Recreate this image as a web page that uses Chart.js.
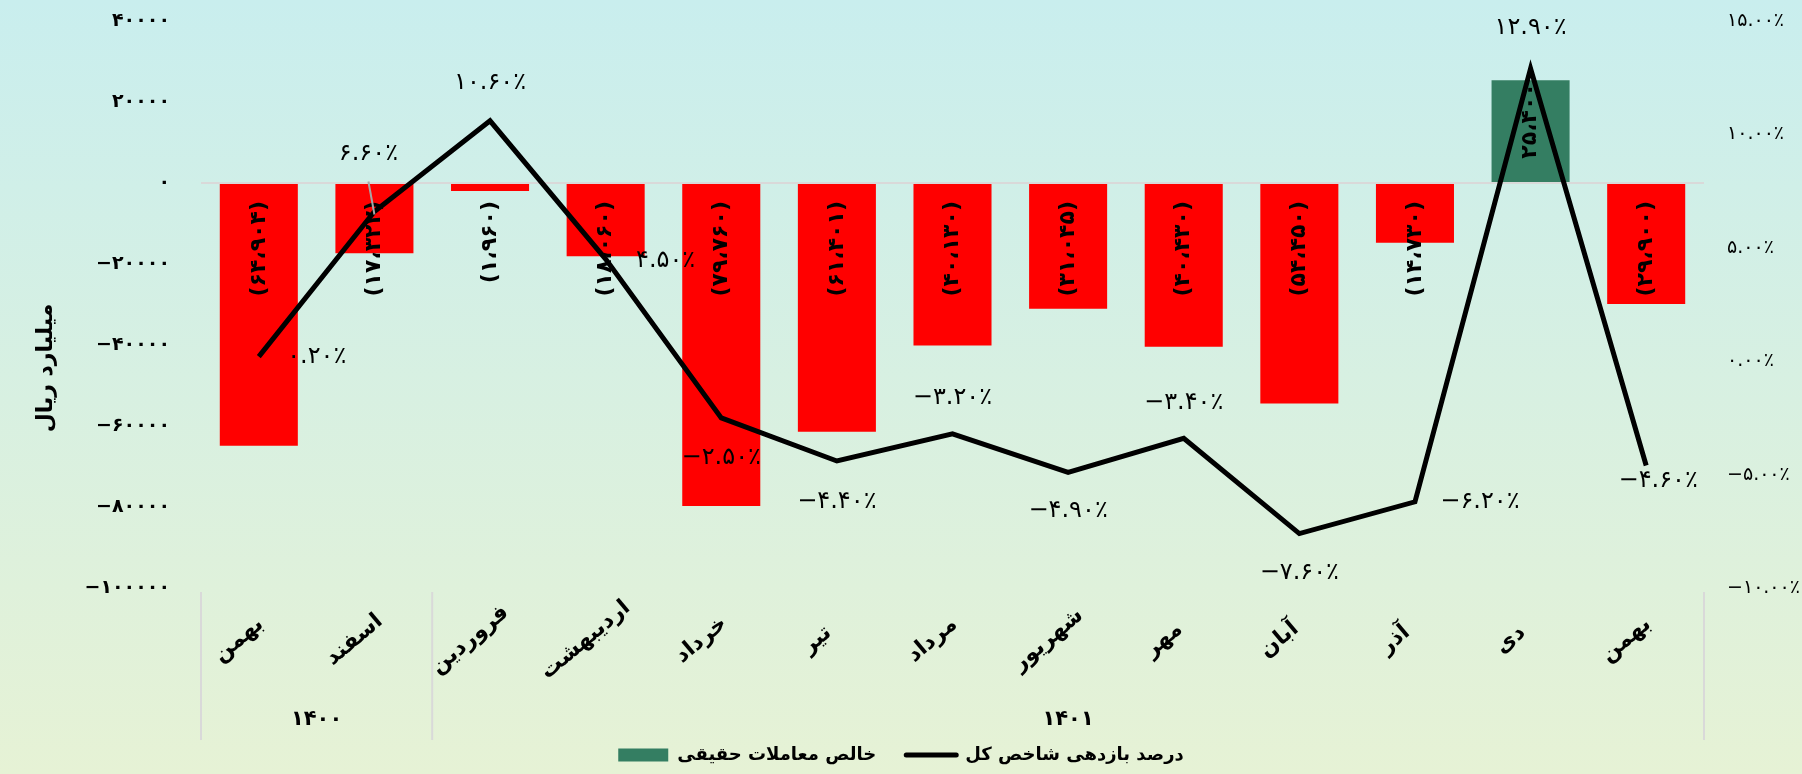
<!DOCTYPE html>
<html>
<head>
<meta charset="utf-8">
<script src="https://cdn.jsdelivr.net/npm/chart.js@4.4.0/dist/chart.umd.min.js"></script>
<style>
html, body { margin: 0; padding: 0; }
#wrap { width: 1802px; height: 774px; }
</style>
</head>
<body>
<div id="wrap"><canvas id="chart"></canvas></div>
<script>
// data
var months = ['بهمن', 'اسفند', 'فروردین', 'اردیبهشت', 'خرداد', 'تیر', 'مرداد', 'شهریور', 'مهر', 'آبان', 'آذر', 'دی', 'بهمن'];
var years = ['۱۴۰۰', '۱۴۰۱'];
var year_spans = [2, 11];
var net_real = [-64904, -17322, -1960, -18060, -79760, -61401, -40130, -31045, -40430, -54450, -14730, 25400, -29900];
var index_return = [0.2, 6.6, 10.6, 4.5, -2.5, -4.4, -3.2, -4.9, -3.4, -7.6, -6.2, 12.9, -4.6];
var left_ticks = [40000, 20000, 0, -20000, -40000, -60000, -80000, -100000];
var right_ticks = [15, 10, 5, 0, -5, -10];

// where each % label sits relative to its point (dx, dy)
var pct_label_offsets = [[58, 0], [-6, -58], [0, -38], [60, 2], [0, 40], [0, 41], [0, -36], [0, 38], [0, -36], [0, 39], [65, 0], [0, -41], [12, 15]];

var GREEN = '#347e62', RED = '#ff0000';
var FONT = "'DejaVu Sans'";

function fa(s){
    return String(s).replace(/[0-9]/g, function(d){ return '۰۱۲۳۴۵۶۷۸۹'[d]; });
}
function fmtMoney(v){
    var s = fa(Math.abs(v).toString().replace(/\B(?=(\d{3})+(?!\d))/g, '،'));
    return v < 0 ? '(' + s + ')' : s;
}
function fmtPct(v){
    return (v < 0 ? '−' : '') + fa(Math.abs(v).toFixed(2)) + '٪';
}
function noVertPad(s){
    s.paddingTop = 0;
    s.paddingBottom = 0;
}

Chart.defaults.font.family = FONT;
Chart.defaults.color = '#000';

var bgPlugin = {
    id: 'bg',
    beforeDraw: function(chart){
        var ctx = chart.ctx;
        var g = ctx.createLinearGradient(0, 0, 0, chart.height);
        g.addColorStop(0, '#c9eeee');
        g.addColorStop(1, '#e6f2d5');
        ctx.save();
        ctx.fillStyle = g;
        ctx.fillRect(0, 0, chart.width, chart.height);
        ctx.restore();
    }
};

var barLabels = {
    id: 'barLabels',
    afterDatasetDraw: function(chart, args){
        if(args.index !== 0) return;
        var ctx = chart.ctx;
        var y0 = chart.scales.y.getPixelForValue(0);
        ctx.save();
        ctx.font = 'bold 22px ' + FONT;
        ctx.fillStyle = '#000';
        ctx.textBaseline = 'middle';
        ctx.textAlign = 'right';
        args.meta.data.forEach(function(bar, i){
            var v = net_real[i];
            var ty = v < 0 ? y0 + 18 : bar.y + 3;
            ctx.save();
            ctx.translate(bar.x, ty);
            ctx.rotate(-Math.PI / 2);
            ctx.fillText(fmtMoney(v), 0, 0);
            ctx.restore();
        });
        ctx.restore();
    }
};

var pctLabels = {
    id: 'pctLabels',
    afterDatasetsDraw: function(chart){
        var ctx = chart.ctx;
        var meta = chart.getDatasetMeta(1);
        ctx.save();
        // leader line for the second label
        var p1 = meta.data[1];
        ctx.strokeStyle = '#a6a6a6';
        ctx.lineWidth = 2;
        ctx.beginPath();
        ctx.moveTo(p1.x - 6, p1.y - 30);
        ctx.lineTo(p1.x, p1.y + 3);
        ctx.stroke();
        ctx.font = '24px ' + FONT;
        ctx.letterSpacing = '2px';
        ctx.fillStyle = '#000';
        ctx.textAlign = 'center';
        ctx.textBaseline = 'middle';
        meta.data.forEach(function(pt, i){
            var o = pct_label_offsets[i];
            ctx.fillText(fmtPct(index_return[i]), pt.x + o[0], pt.y + o[1]);
        });
        ctx.restore();
    }
};

// month names (tilted) + year row + group separators
var catAxis = {
    id: 'catAxis',
    afterDraw: function(chart){
        var ctx = chart.ctx, x = chart.scales.x, area = chart.chartArea;
        var half = (x.getPixelForValue(1) - x.getPixelForValue(0)) / 2;
        ctx.save();
        ctx.fillStyle = '#000';
        ctx.textAlign = 'center';
        ctx.textBaseline = 'middle';
        ctx.font = 'bold 22px ' + FONT;
        months.forEach(function(m, i){
            ctx.save();
            ctx.translate(x.getPixelForValue(i) - 20, area.bottom + 52);
            ctx.rotate(-40 * Math.PI / 180);
            ctx.fillText(m, 0, 0);
            ctx.restore();
        });
        ctx.strokeStyle = '#d9d9d9';
        ctx.lineWidth = 2;
        ctx.font = 'bold 21px ' + FONT;
        var start = 0;
        var edges = [x.getPixelForValue(0) - half];
        for(var i = 0; i < years.length; i++){
            var end = start + year_spans[i] - 1;
            var left = x.getPixelForValue(start) - half;
            var right = x.getPixelForValue(end) + half;
            edges.push(right);
            ctx.fillText(years[i], (left + right) / 2, area.bottom + 132);
            start = end + 1;
        }
        edges.forEach(function(e){
            ctx.beginPath();
            ctx.moveTo(e, area.bottom + 4);
            ctx.lineTo(e, area.bottom + 152);
            ctx.stroke();
        });
        // axis title
        ctx.font = 'bold 22px ' + FONT;
        ctx.translate(46, 368);
        ctx.rotate(-Math.PI / 2);
        ctx.fillText('میلیارد ریال', 0, 0);
        ctx.restore();
    }
};

var chart = new Chart(document.getElementById('chart'), {
    data: {
        labels: months,
        datasets: [
            {
                type: 'bar',
                label: 'خالص معاملات حقیقی',
                data: net_real,
                yAxisID: 'y',
                order: 2,
                backgroundColor: net_real.map(function(v){ return v < 0 ? RED : GREEN; }),
                barPercentage: 0.9,
                categoryPercentage: 0.75
            },
            {
                type: 'line',
                label: 'درصد بازدهی شاخص کل',
                data: index_return,
                yAxisID: 'y1',
                order: 1,
                borderColor: '#000',
                borderWidth: 5,
                pointRadius: 0,
                tension: 0
            }
        ]
    },
    options: {
        responsive: true,
        maintainAspectRatio: false,
        animation: false,
        layout: { padding: { top: 21, left: 0, right: 0, bottom: 0 } },
        plugins: {
            tooltip: { enabled: false },
            legend: {
                position: 'bottom',
                labels: {
                    usePointStyle: true,
                    pointStyleWidth: 50,
                    boxHeight: 13,
                    padding: 30,
                    font: { size: 18, weight: 'bold' },
                    generateLabels: function(){
                        return [
                            { text: 'خالص معاملات حقیقی', fillStyle: GREEN, strokeStyle: GREEN, lineWidth: 0, pointStyle: 'rect', datasetIndex: 0, hidden: false },
                            { text: 'درصد بازدهی شاخص کل', fillStyle: '#000', strokeStyle: '#000', lineWidth: 5, lineCap: 'round', pointStyle: 'line', datasetIndex: 1, hidden: false }
                        ];
                    }
                }
            }
        },
        scales: {
            x: {
                offset: true,
                grid: { display: false },
                border: { display: false },
                ticks: { display: false },
                afterFit: function(s){ s.height = 128; }
            },
            y: {
                position: 'left',
                min: -100000,
                max: 40000,
                afterBuildTicks: function(s){ s.ticks = left_ticks.map(function(v){ return { value: v }; }); },
                grid: {
                    drawTicks: false,
                    lineWidth: 2,
                    color: function(c){ return c.tick && c.tick.value === 0 ? '#d9d9d9' : 'rgba(0,0,0,0)'; }
                },
                border: { display: false },
                ticks: {
                    padding: 31,
                    font: { size: 19, weight: 'bold' },
                    callback: function(v){ return (v < 0 ? '−' : '') + fa(Math.abs(v)); }
                },
                afterFit: function(s){ s.width = 201; noVertPad(s); }
            },
            y1: {
                position: 'right',
                min: -10,
                max: 15,
                afterBuildTicks: function(s){ s.ticks = right_ticks.map(function(v){ return { value: v }; }); },
                grid: { display: false, drawTicks: false },
                border: { display: false },
                ticks: {
                    padding: 23,
                    font: { size: 19 },
                    callback: function(v){ return fmtPct(v); }
                },
                afterFit: function(s){ s.width = 98; noVertPad(s); }
            }
        }
    },
    plugins: [bgPlugin, barLabels, pctLabels, catAxis]
});
</script>
</body>
</html>
